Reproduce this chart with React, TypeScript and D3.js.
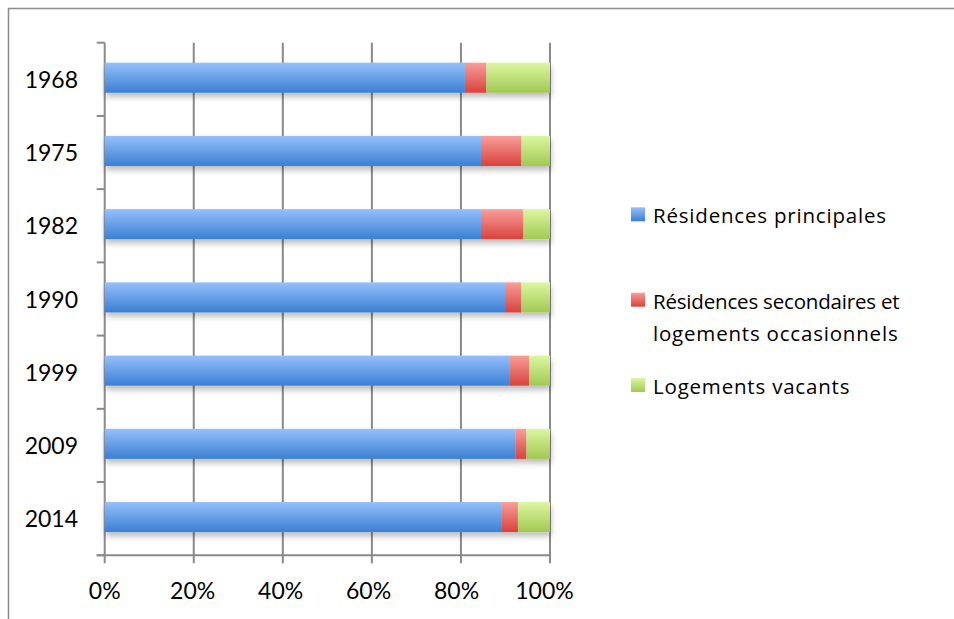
import React, { useLayoutEffect, useRef } from "react";
import * as d3 from "d3";

// Housing stock composition by census year (share of dwellings, %)
const years = ["1968", "1975", "1982", "1990", "1999", "2009", "2014"];
const principales = [80.9, 84.5, 84.5, 89.9, 91.0, 92.2, 89.2];
const secondaires = [4.8, 9.0, 9.5, 3.6, 4.3, 2.5, 3.6];
const vacants = [14.3, 6.5, 6.0, 6.5, 4.7, 5.3, 7.2];
const xTicks = [0, 20, 40, 60, 80, 100];

const seriesKeys = ["principales", "secondaires", "vacants"];
const seriesLabels = [
  ["Résidences principales"],
  ["Résidences secondaires et", "logements occasionnels"],
  ["Logements vacants"],
];
const gradients = [
  { id: "gBlue", top: "#95c0fb", bottom: "#3b7fd3" },
  { id: "gRed", top: "#f99e9a", bottom: "#d8423c" },
  { id: "gGreen", top: "#dcf7a0", bottom: "#a1c853" },
];

const W = 954;
const H = 619;
const plot = { left: 104.7, right: 550, top: 42.7, bottom: 555.3 };
const FONT = "Lato, 'Open Sans', sans-serif";
const LEGEND_FONT = "'Open Sans', Lato, sans-serif";
const GRID = "#8a8a8a";

export default function App() {
  const rows = years.map((year, i) => ({
    year,
    principales: principales[i],
    secondaires: secondaires[i],
    vacants: vacants[i],
  }));
  const stacked = d3.stack<any>().keys(seriesKeys)(rows);

  const x = d3.scaleLinear().domain([0, 100]).range([plot.left, plot.right]);
  const y = d3.scaleBand().domain(years).range([plot.top, plot.bottom]).padding(0);
  const step = y.step();
  const barH = step * 0.41;
  const barOff = step * 0.273;

  // justify the first line of the wrapped legend entry to the second line's width
  const line1Ref = useRef<SVGTextElement>(null);
  const line2Ref = useRef<SVGTextElement>(null);
  useLayoutEffect(() => {
    const a = line1Ref.current;
    const b = line2Ref.current;
    if (!a || !b) return;
    const wb = b.getComputedTextLength();
    a.setAttribute("textLength", String(wb + 2));
    a.setAttribute("lengthAdjust", "spacing");
  }, []);

  const legendX = 631;
  const legendItems = [{ y: 207.3 }, { y: 292.7 }, { y: 378 }];

  return (
    <svg
      width={W}
      height={H}
      style={{ position: "absolute", left: 0, top: 0, background: "#fff" }}
      fontFamily={FONT}
    >
      <defs>
        {gradients.map((g) => (
          <linearGradient key={g.id} id={g.id} x1="0" y1="0" x2="0" y2="1">
            <stop offset="0%" stopColor={g.top} />
            <stop offset="100%" stopColor={g.bottom} />
          </linearGradient>
        ))}
        <filter id="barShadow" x="-5%" y="-30%" width="110%" height="180%">
          <feGaussianBlur in="SourceAlpha" stdDeviation="3" />
          <feOffset dx="1" dy="4" result="blur" />
          <feComponentTransfer>
            <feFuncA type="linear" slope="0.28" />
          </feComponentTransfer>
          <feMerge>
            <feMergeNode />
            <feMergeNode in="SourceGraphic" />
          </feMerge>
        </filter>
      </defs>

      {/* outer frame */}
      <rect x={8.5} y={8.5} width={W + 20} height={H + 20} fill="none" stroke="#8c8c8c" strokeWidth={1.5} />

      {/* vertical gridlines (extend below axis as ticks) */}
      {xTicks.map((t) => (
        <line
          key={"g" + t}
          x1={x(t)}
          x2={x(t)}
          y1={plot.top}
          y2={plot.bottom + 8}
          stroke={GRID}
          strokeWidth={2}
        />
      ))}

      {/* y axis ticks at category boundaries */}
      {d3.range(years.length + 1).map((i) => {
        const yy = plot.top + i * step;
        return (
          <line key={"yt" + i} x1={plot.left - 8} x2={plot.left} y1={yy} y2={yy} stroke={GRID} strokeWidth={2} />
        );
      })}
      <line x1={plot.left - 8} x2={plot.right} y1={plot.bottom} y2={plot.bottom} stroke={GRID} strokeWidth={2} />

      {/* stacked bars */}
      <g filter="url(#barShadow)">
        {stacked.map((s, si) =>
          s.map((d: any) => (
            <rect
              key={s.key + d.data.year}
              x={x(d[0])}
              width={x(d[1]) - x(d[0])}
              y={(y(d.data.year) as number) + barOff}
              height={barH}
              fill={`url(#${gradients[si].id})`}
            />
          ))
        )}
      </g>

      {/* category labels */}
      {years.map((yr) => (
        <text
          key={"yl" + yr}
          x={78}
          y={(y(yr) as number) + step / 2 + 8.5}
          textAnchor="end"
          fontSize={23}
          fill="#000"
        >
          {yr}
        </text>
      ))}

      {/* value axis labels */}
      {xTicks.map((t) => (
        <text key={"xl" + t} x={x(t) - t * 0.055} y={599} textAnchor="middle" fontSize={23} fill="#000">
          {t + "%"}
        </text>
      ))}

      {/* legend */}
      {legendItems.map((it, i) => (
        <g key={"lg" + i}>
          <rect x={legendX} y={it.y} width={14} height={14} fill={`url(#${gradients[i].id})`} />
          {seriesLabels[i].map((ln, li) => (
            <text
              key={li}
              ref={i === 1 ? (li === 0 ? line1Ref : line2Ref) : undefined}
              x={653}
              y={it.y + 16 + li * 32.7}
              fontSize={20.5}
              fontFamily={LEGEND_FONT}
              letterSpacing={0.8}
              fill="#000"
            >
              {ln}
            </text>
          ))}
        </g>
      ))}
    </svg>
  );
}
